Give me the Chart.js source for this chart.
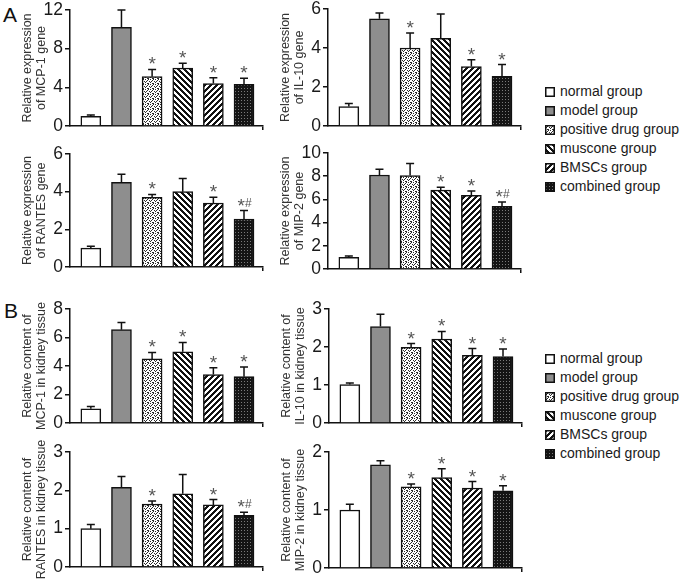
<!DOCTYPE html>
<html>
<head>
<meta charset="utf-8">
<script src="https://cdn.jsdelivr.net/npm/chart.js@4.4.0/dist/chart.umd.min.js"></script>
<style>
  body { margin: 0; background: #fff; font-family: "Liberation Sans", Arial, sans-serif; }
  #fig { position: relative; width: 696px; height: 583px; overflow: hidden; }
  #fig canvas.plot { position: absolute; }
  .panel { position: absolute; font-size: 21px; line-height: 20px; color: #111; }
  .legend { position: absolute; font-size: 14px; color: #1a1a1a; }
  .legend .row { position: absolute; left: 0; height: 19px; line-height: 19px; white-space: nowrap; }
  .legend canvas { position: absolute; left: 0; top: 5px; }
  .legend span { position: absolute; left: 15px; top: 0; }
</style>
</head>
<body>
<div id="fig">
  <div class="panel" style="left:3px;top:5px">A</div>
  <div class="panel" style="left:4px;top:301px">B</div>
  <canvas class="plot" id="aMcp"></canvas>
  <canvas class="plot" id="aIl10"></canvas>
  <canvas class="plot" id="aRantes"></canvas>
  <canvas class="plot" id="aMip2"></canvas>
  <canvas class="plot" id="bMcp"></canvas>
  <canvas class="plot" id="bIl10"></canvas>
  <canvas class="plot" id="bRantes"></canvas>
  <canvas class="plot" id="bMip2"></canvas>
  <div class="legend" id="legendA" style="left:545px;top:82px"></div>
  <div class="legend" id="legendB" style="left:545px;top:349px"></div>
</div>
<script>
// groups (same order in every panel)
const groups = ['normal group', 'model group', 'positive drug group', 'muscone group', 'BMSCs group', 'combined group'];

// A: relative gene expression
const mcp1Gene = [1.0, 10.2, 5.1, 6.0, 4.4, 4.3];
const mcp1GeneErr = [0.15, 1.8, 0.75, 0.5, 0.6, 0.65];
const mcp1GeneSig = ['', '', '*', '*', '*', '*'];
const mcp1GeneTicks = [0, 4, 8, 12];

const il10Gene = [1.0, 5.5, 4.0, 4.5, 3.05, 2.55];
const il10GeneErr = [0.15, 0.3, 0.77, 1.25, 0.35, 0.6];
const il10GeneSig = ['', '', '*', '', '*', '*'];
const il10GeneTicks = [0, 2, 4, 6];

const rantesGene = [1.0, 4.5, 3.7, 4.0, 3.4, 2.55];
const rantesGeneErr = [0.1, 0.42, 0.15, 0.7, 0.3, 0.45];
const rantesGeneSig = ['', '', '*', '', '*', '*#'];
const rantesGeneTicks = [0, 2, 4, 6];

const mip2Gene = [1.0, 8.1, 8.05, 6.8, 6.35, 5.4];
const mip2GeneErr = [0.13, 0.5, 1.05, 0.25, 0.38, 0.38];
const mip2GeneSig = ['', '', '', '*', '*', '*#'];
const mip2GeneTicks = [0, 2, 4, 6, 8, 10];

// B: relative content in kidney tissue
const mcp1Tissue = [1.0, 6.55, 4.5, 5.0, 3.4, 3.25];
const mcp1TissueErr = [0.15, 0.5, 0.45, 0.65, 0.48, 0.68];
const mcp1TissueSig = ['', '', '*', '*', '*', '*'];
const mcp1TissueTicks = [0, 2, 4, 6, 8];

const il10Tissue = [1.01, 2.54, 1.99, 2.21, 1.78, 1.75];
const il10TissueErr = [0.04, 0.32, 0.1, 0.2, 0.18, 0.2];
const il10TissueSig = ['', '', '*', '*', '*', '*'];
const il10TissueTicks = [0, 1, 2, 3];

const rantesTissue = [1.0, 2.08, 1.64, 1.91, 1.62, 1.35];
const rantesTissueErr = [0.11, 0.28, 0.08, 0.5, 0.14, 0.08];
const rantesTissueSig = ['', '', '*', '', '*', '*#'];
const rantesTissueTicks = [0, 1, 2, 3];

const mip2Tissue = [1.0, 1.78, 1.4, 1.56, 1.38, 1.33];
const mip2TissueErr = [0.1, 0.07, 0.05, 0.15, 0.11, 0.09];
const mip2TissueSig = ['', '', '*', '*', '*', '*'];
const mip2TissueTicks = [0, 1, 2];

// fill patterns for the six groups
function tilePattern(size, test, dark, light) {
    const c = document.createElement('canvas');
    c.width = size; c.height = size;
    const g = c.getContext('2d');
    g.fillStyle = light;
    g.fillRect(0, 0, size, size);
    g.fillStyle = dark;
    for (let y = 0; y < size; y++) {
        for (let x = 0; x < size; x++) {
            if (test(x, y)) g.fillRect(x, y, 1, 1);
        }
    }
    return g.createPattern(c, 'repeat');
}

const stipple = ['10010', '00100', '01001', '10000', '00110'];
const fills = [
    '#ffffff',
    '#8e8e8e',
    tilePattern(5, (x, y) => stipple[y][x] === '1', '#2a2a2a', '#ffffff'),
    tilePattern(6, (x, y) => ((x - y) % 6 + 6) % 6 < 3, '#111111', '#ffffff'),
    tilePattern(6, (x, y) => (x + y) % 6 < 3, '#111111', '#ffffff'),
    tilePattern(3, (x, y) => !(x === 1 && y === 1), '#141414', '#7a7a7a')
];

// error bars and significance marks
function errorBarPlugin(errs, sigs) {
    return {
        id: 'errorBars',
        afterDatasetsDraw(chart) {
            const ctx = chart.ctx;
            const yScale = chart.scales.y;
            const ds = chart.data.datasets[0];
            const meta = chart.getDatasetMeta(0);
            ctx.save();
            meta.data.forEach((bar, i) => {
                const top = yScale.getPixelForValue(ds.data[i].y + errs[i]);
                ctx.strokeStyle = '#111';
                ctx.lineWidth = 1.5;
                ctx.beginPath();
                ctx.moveTo(bar.x, bar.y);
                ctx.lineTo(bar.x, top);
                ctx.moveTo(bar.x - 4, top);
                ctx.lineTo(bar.x + 4, top);
                ctx.stroke();
                const s = sigs[i];
                if (!s) return;
                ctx.fillStyle = '#555';
                ctx.textBaseline = 'alphabetic';
                ctx.font = '19px "Liberation Sans", Arial, sans-serif';
                if (s === '*') {
                    ctx.textAlign = 'center';
                    ctx.fillText('*', bar.x, top + 1);
                } else {
                    ctx.textAlign = 'right';
                    ctx.fillText('*', bar.x + 1, top + 1);
                    ctx.textAlign = 'left';
                    ctx.font = '12px "Liberation Sans", Arial, sans-serif';
                    ctx.fillText('#', bar.x + 1, top - 4);
                }
            });
            ctx.restore();
        }
    };
}

const PAD_TOP = 16, PAD_BOTTOM = 10, END_TICK = 4, PLOT_W = 267;

function drawPanel(id, left, areaTop, areaBottom, values, errs, sigs, ticks, title) {
    const canvas = document.getElementById(id);
    const top = areaTop - PAD_TOP;
    const h = areaBottom - top + PAD_BOTTOM + END_TICK;
    canvas.width = PLOT_W; canvas.height = h;
    canvas.style.left = left + 'px';
    canvas.style.top = top + 'px';
    canvas.style.width = PLOT_W + 'px';
    canvas.style.height = h + 'px';

    return new Chart(canvas, {
        type: 'bar',
        data: {
            datasets: [{
                data: values.map((v, i) => ({x: i, y: v})),
                backgroundColor: fills,
                borderColor: '#111',
                borderWidth: 1.5,
                barThickness: 20
            }]
        },
        options: {
            responsive: false,
            animation: false,
            events: [],
            layout: {padding: {top: PAD_TOP, bottom: PAD_BOTTOM, left: 0, right: 4}},
            plugins: {legend: {display: false}, tooltip: {enabled: false}},
            scales: {
                x: {
                    type: 'linear',
                    offset: false,
                    min: -0.68,
                    max: 5.62,
                    afterBuildTicks: s => { s.ticks = [{value: s.max}]; },
                    ticks: {display: false},
                    grid: {display: true, offset: false, drawOnChartArea: false, drawTicks: true, tickLength: END_TICK, color: '#111', lineWidth: 1.5},
                    border: {display: true, color: '#111', width: 1.5}
                },
                y: {
                    min: ticks[0],
                    max: ticks[ticks.length - 1],
                    afterBuildTicks: s => { s.ticks = ticks.map(v => ({value: v})); },
                    afterFit: s => { s.width = 70; },
                    ticks: {color: '#1a1a1a', padding: 2, font: {size: 17.5, lineHeight: 1, family: '"Liberation Sans", Arial, sans-serif'}},
                    grid: {drawOnChartArea: false, tickLength: 5, color: '#111', lineWidth: 1.5},
                    border: {color: '#111', width: 1.5},
                    title: {
                        display: true,
                        text: title,
                        color: '#333',
                        padding: {top: 21, bottom: 0},
                        font: {size: 12.5, lineHeight: 1.12, family: '"Liberation Sans", Arial, sans-serif'}
                    }
                }
            }
        },
        plugins: [errorBarPlugin(errs, sigs)]
    });
}

drawPanel('aMcp', 0, 10, 126, mcp1Gene, mcp1GeneErr, mcp1GeneSig, mcp1GeneTicks, ['Relative expression', 'of MCP-1 gene']);
drawPanel('aIl10', 258, 9, 126, il10Gene, il10GeneErr, il10GeneSig, il10GeneTicks, ['Relative expression', 'of IL-10 gene']);
drawPanel('aRantes', 0, 154, 267, rantesGene, rantesGeneErr, rantesGeneSig, rantesGeneTicks, ['Relative expression', 'of RANTES gene']);
drawPanel('aMip2', 258, 153, 269, mip2Gene, mip2GeneErr, mip2GeneSig, mip2GeneTicks, ['Relative expression', 'of MIP-2 gene']);
drawPanel('bMcp', 0, 309, 423, mcp1Tissue, mcp1TissueErr, mcp1TissueSig, mcp1TissueTicks, ['Relative content of', 'MCP-1 in kidney tissue']);
drawPanel('bIl10', 259, 309, 423, il10Tissue, il10TissueErr, il10TissueSig, il10TissueTicks, ['Relative content of', 'IL-10 in kidney tissue']);
drawPanel('bRantes', 0, 452, 567, rantesTissue, rantesTissueErr, rantesTissueSig, rantesTissueTicks, ['Relative content of', 'RANTES in kidney tissue']);
drawPanel('bMip2', 259, 452, 568, mip2Tissue, mip2TissueErr, mip2TissueSig, mip2TissueTicks, ['Relative content of', 'MIP-2 in kidney tissue']);

// legends
function buildLegend(id) {
    const box = document.getElementById(id);
    groups.forEach((name, i) => {
        const row = document.createElement('div');
        row.className = 'row';
        row.style.top = (i * 19) + 'px';
        const sw = document.createElement('canvas');
        sw.width = 10; sw.height = 10;
        const g = sw.getContext('2d');
        g.fillStyle = fills[i];
        g.fillRect(0, 0, 10, 10);
        g.strokeStyle = '#111';
        g.lineWidth = 1.5;
        g.strokeRect(0.75, 0.75, 8.5, 8.5);
        const label = document.createElement('span');
        label.textContent = name;
        row.appendChild(sw);
        row.appendChild(label);
        box.appendChild(row);
    });
}
buildLegend('legendA');
buildLegend('legendB');
</script>
</body>
</html>
